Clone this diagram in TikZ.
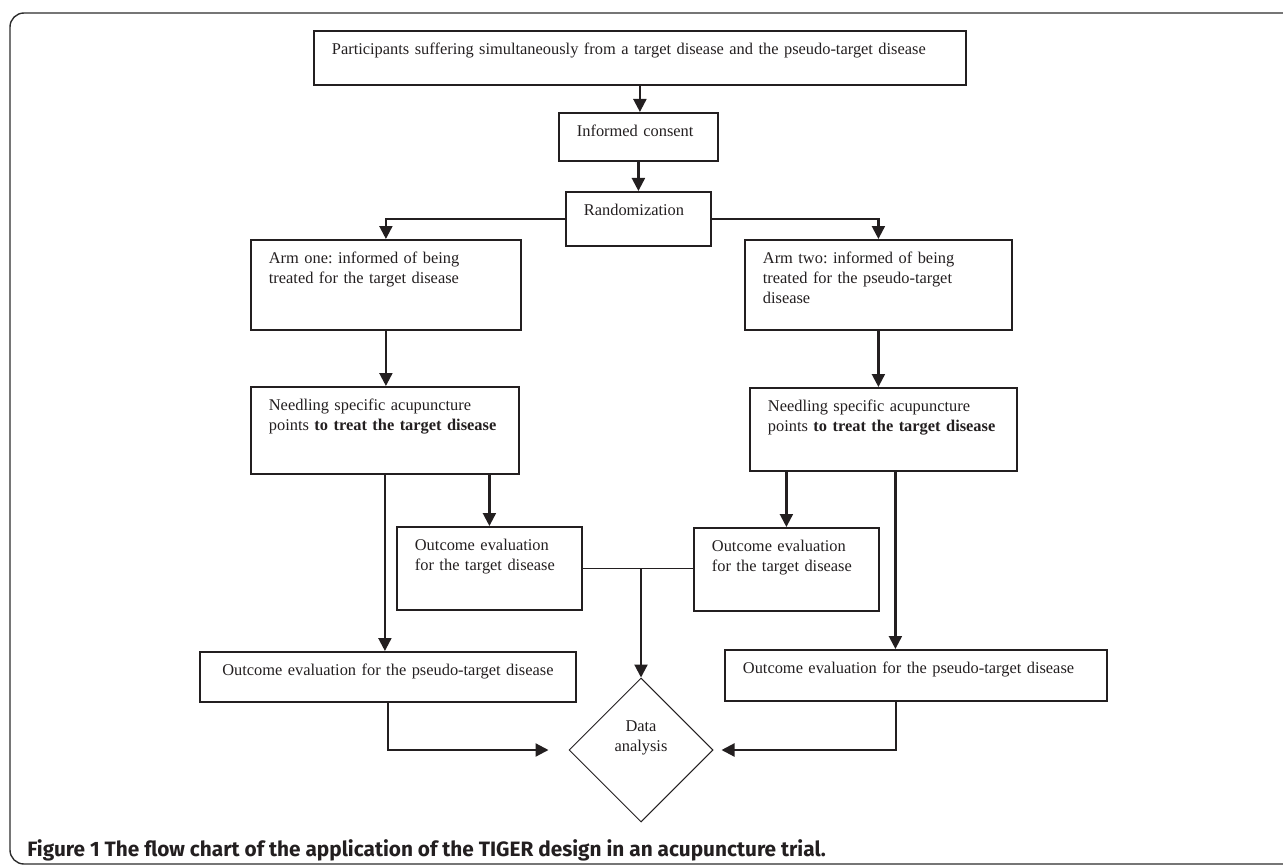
\documentclass[tikz,border=0pt]{standalone}
\usepackage{fontspec}
\setmainfont{Liberation Serif}
\newfontfamily\capfont{Fira Sans}
\usepackage{tikz}
\usetikzlibrary{positioning}
\usetikzlibrary{calc}
\usetikzlibrary{arrows.meta}
\usetikzlibrary{shapes.geometric}
\definecolor{ink}{RGB}{35,31,32}
\definecolor{frame}{RGB}{45,45,45}
\frenchspacing
\hyphenpenalty=10000
\tikzset{
    common/.style={draw=ink, line width=0.9pt, font=\fontsize{8.2}{10}\selectfont, text=ink},
    box/.style={common, rectangle, anchor=north west, align=left, inner xsep=9pt, inner ysep=0pt, text height=12pt},
    decision/.style={common, diamond, line width=0.5pt, minimum width=72pt, minimum height=72pt, inner sep=0pt, align=center},
    flow/.style={draw=ink, line width=1.1pt, -{Triangle[length=6.5pt, width=6.5pt]}},
    link/.style={draw=ink, line width=0.7pt},
}

\begin{document}
\begin{tikzpicture}[x=0.5pt, y=-0.5pt]
    \useasboundingbox (0,0) rectangle (1283,866);

    % outer frame, open to the right
    \draw[frame, line width=0.7pt, rounded corners=7pt] (1300,13) -- (10,13) -- (10,864) -- (1300,864);

    \node[box, text width=308pt, text depth=15pt] (part) at (313,30)
        {Participants suffering simultaneously from a target disease and the pseudo-target disease};
    \node[box, text width=61.5pt, text depth=12pt] (cons) at (558,112) {Informed consent};
    \node[box, text width=54.5pt, text depth=15pt] (rand) at (565,191) {Randomization};

    \node[box, text width=117pt, text depth=33pt] (arm1) at (250,239)
        {Arm one: informed of being\\treated for the target disease};
    \node[box, text width=115.5pt, text depth=33pt] (arm2) at (744,239)
        {Arm two: informed of being\\treated for the pseudo-target\\disease};

    \node[box, text width=116pt, text depth=31.5pt] (need1) at (250,386)
        {Needling specific acupuncture\\points \textbf{to treat the target disease}};
    \node[box, text width=115.5pt, text depth=29.5pt] (need2) at (749,387)
        {Needling specific acupuncture\\points \textbf{to treat the target disease}};

    \node[box, text width=74.5pt, text depth=29.5pt] (out1) at (396,526)
        {Outcome evaluation\\for the target disease};
    \node[box, text width=74.5pt, text depth=29.5pt] (out2) at (693,527)
        {Outcome evaluation\\for the target disease};

    \node[box, align=center, text width=170pt, text depth=13pt] (pse1) at (199,651)
        {Outcome evaluation for the pseudo-target disease};
    \node[box, text width=173pt, text depth=13.5pt] (pse2) at (724,649)
        {Outcome evaluation for the pseudo-target disease};

    \node[decision] (data) at (641,750) {Data\\analysis\\[4pt]};

    \draw[flow] (part.south) -- (part.south |- cons.north);
    \draw[flow] (cons.south) -- (cons.south |- rand.north);
    \draw[flow] (rand.west) -| (arm1.north);
    \draw[flow] (rand.east) -| (arm2.north);
    \draw[flow] (arm1.south) -- (arm1.south |- need1.north);
    \draw[flow] (arm2.south) -- (arm2.south |- need2.north);
    \draw[flow] (out1.north |- need1.south) -- (out1.north);
    \draw[flow] (need1.south) -- (need1.south |- pse1.north);
    \draw[flow] (out2.north |- need2.south) -- (out2.north);
    \draw[flow] ([xshift=6pt]need2.south) -- ([xshift=6pt]need2.south |- pse2.north);

    \draw[link] (out1.east) -- (out1.east -| out2.west);
    \draw[flow] (data.north |- out1.east) -- (data.north);
    \draw[flow, shorten >=10pt] (pse1.south) |- (data.west);
    \draw[flow, shorten >=4pt] ([xshift=-10pt]pse2.south) |- (data.east);

    \node[anchor=west, inner sep=0pt, font=\capfont\bfseries\fontsize{10.4}{12}\selectfont, text=ink] (caption) at (27,850)
        {Figure 1 The flow chart of the application of the TIGER design in an acupuncture trial.};
\end{tikzpicture}
\end{document}
